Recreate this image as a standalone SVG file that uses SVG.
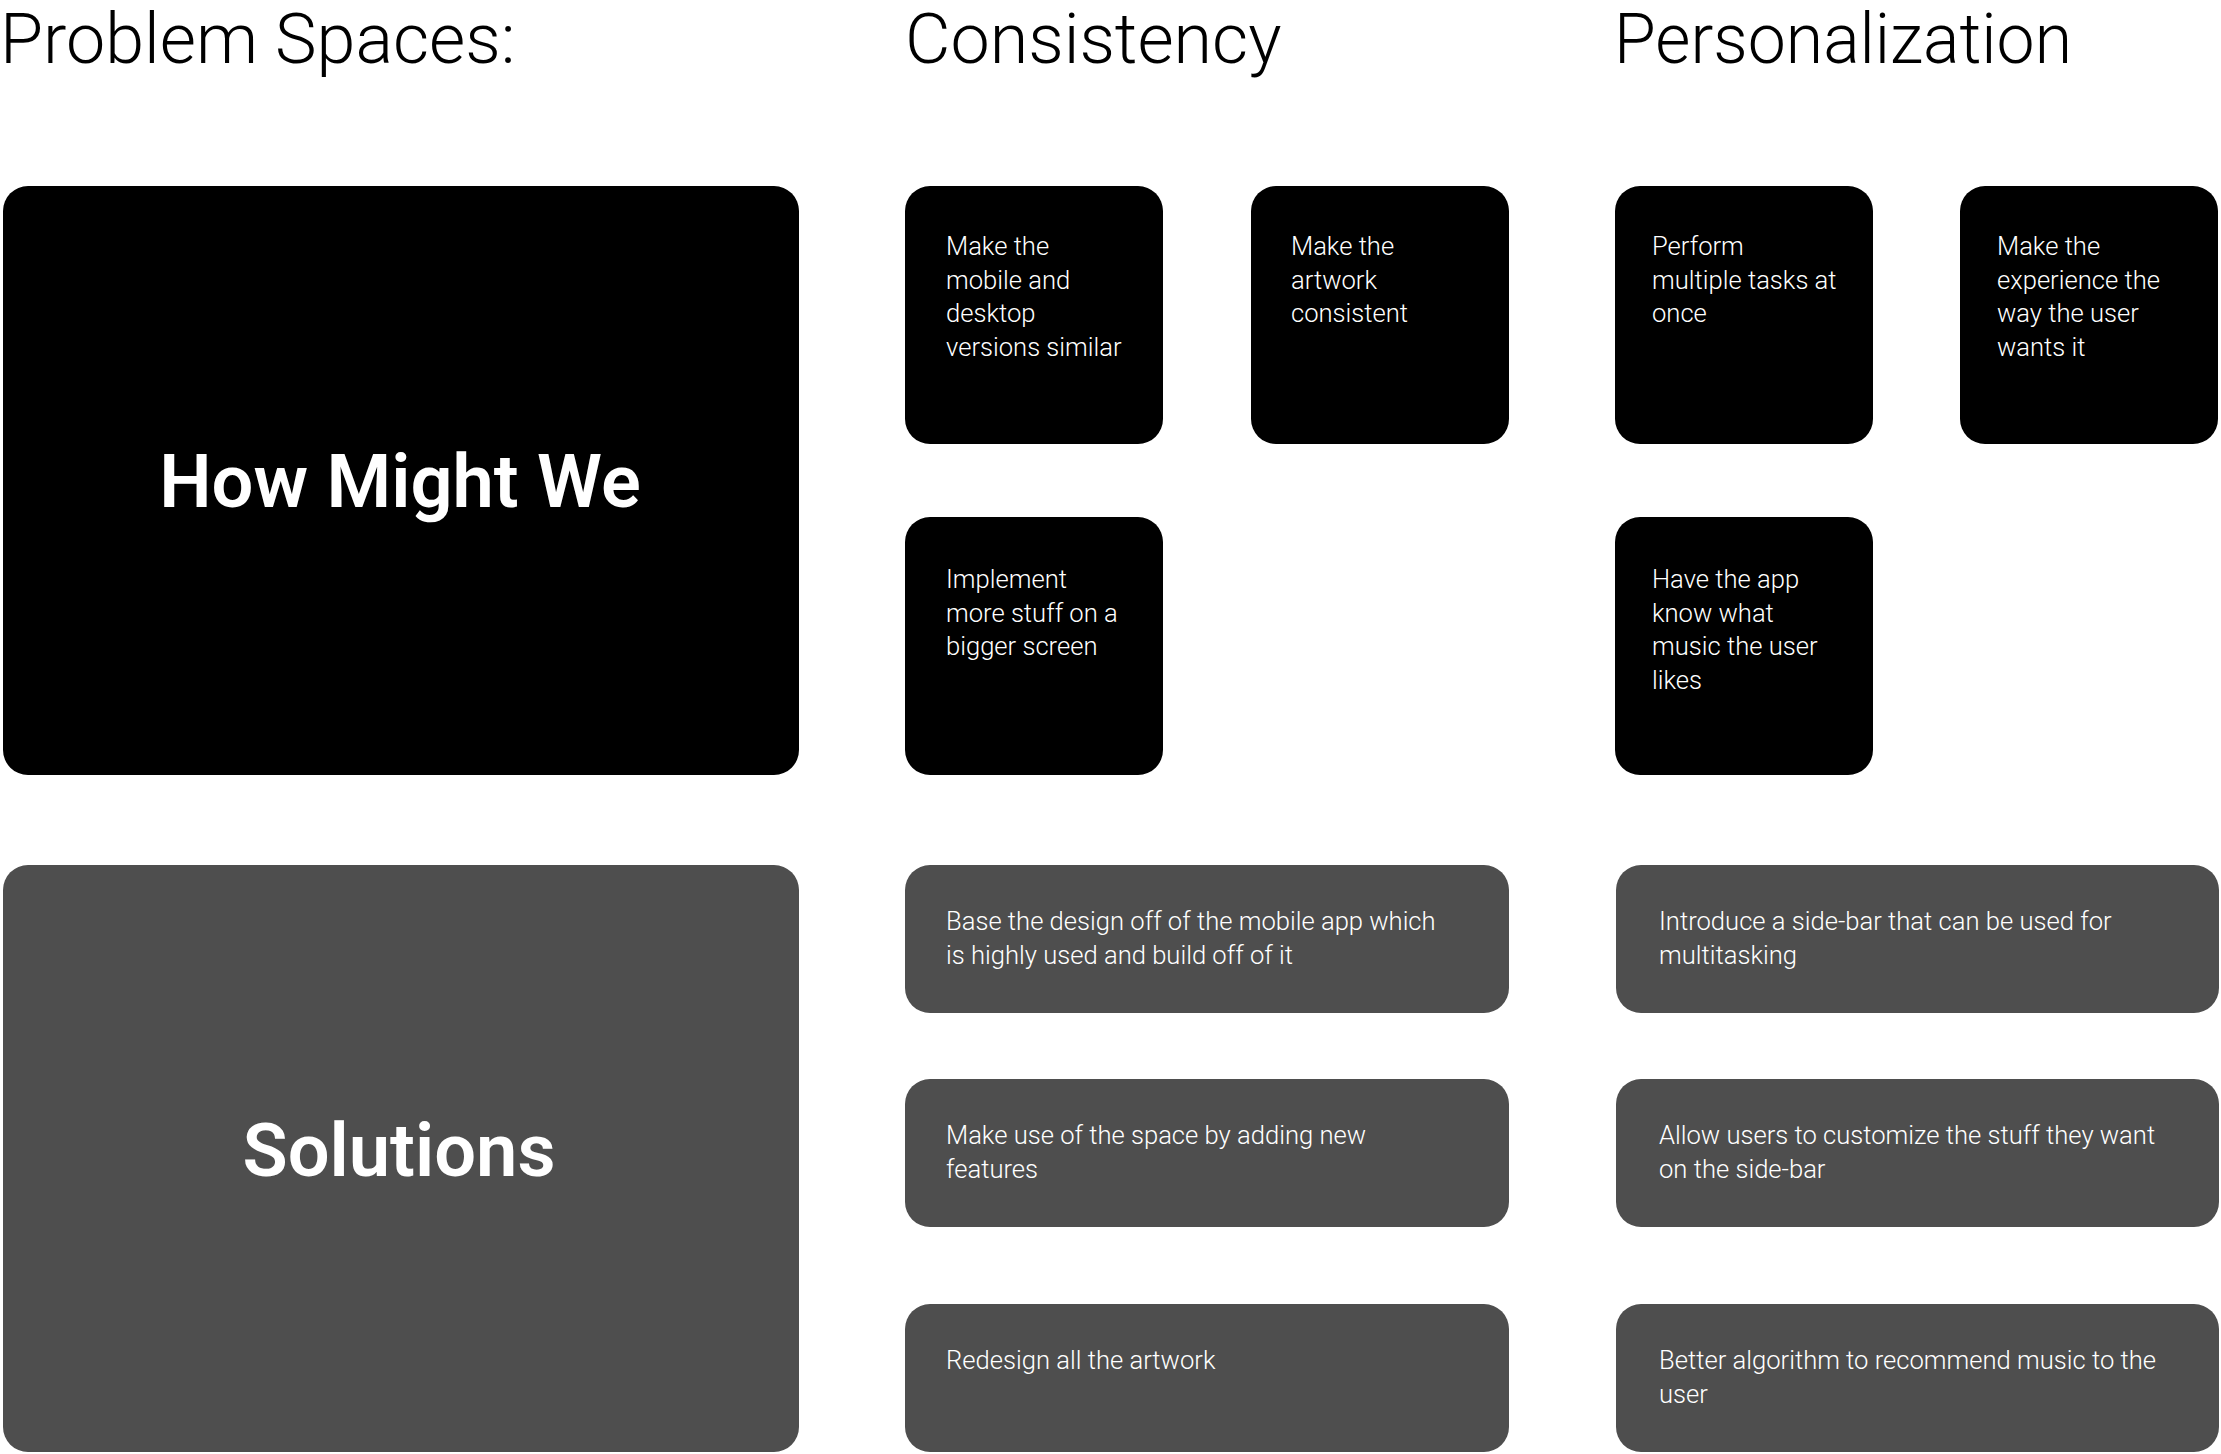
<svg xmlns="http://www.w3.org/2000/svg" width="2221" height="1454" viewBox="0 0 2221 1454">
  <style>
    .heading { font-family: Roboto, "Liberation Sans", sans-serif; font-weight: 300; font-size: 70px; fill: #000; }
    .title { font-family: Roboto, "Liberation Sans", sans-serif; font-weight: 600; font-size: 74px; fill: #fff; text-anchor: middle; }
    .note { font-family: Roboto, "Liberation Sans", sans-serif; font-weight: 300; font-size: 25.6px; fill: #fff; }
    .dark { fill: #000; }
    .grey { fill: #4e4e4e; }
  </style>
  <rect width="2221" height="1454" fill="#fff"/>

  <!-- column headings -->
  <g id="headings">
    <text class="heading" x="0" y="63">Problem Spaces:</text>
    <text class="heading" x="905" y="63">Consistency</text>
    <text class="heading" x="1614" y="63" textLength="458" lengthAdjust="spacingAndGlyphs">Personalization</text>
  </g>

  <!-- row labels -->
  <g id="how-might-we">
    <rect class="dark" x="3" y="186" width="796" height="589" rx="25"/>
    <text class="title" x="400" y="507">How Might We</text>
  </g>
  <g id="solutions">
    <rect class="grey" x="3" y="865" width="796" height="587" rx="25"/>
    <text class="title" x="399" y="1176">Solutions</text>
  </g>

  <!-- how-might-we cards: consistency -->
  <g id="hmw-consistency-1">
    <rect class="dark" x="905" y="186" width="258" height="258" rx="25"/>
    <text class="note" x="946" y="255">
      <tspan x="946">Make the</tspan>
      <tspan x="946" dy="33.5">mobile and</tspan>
      <tspan x="946" dy="33.5">desktop</tspan>
      <tspan x="946" dy="33.5">versions similar</tspan>
    </text>
  </g>
  <g id="hmw-consistency-2">
    <rect class="dark" x="1251" y="186" width="258" height="258" rx="25"/>
    <text class="note" x="1291" y="255">
      <tspan x="1291">Make the</tspan>
      <tspan x="1291" dy="33.5">artwork</tspan>
      <tspan x="1291" dy="33.5">consistent</tspan>
    </text>
  </g>
  <g id="hmw-consistency-3">
    <rect class="dark" x="905" y="517" width="258" height="258" rx="25"/>
    <text class="note" x="946" y="588">
      <tspan x="946">Implement</tspan>
      <tspan x="946" dy="33.5">more stuff on a</tspan>
      <tspan x="946" dy="33.5">bigger screen</tspan>
    </text>
  </g>

  <!-- how-might-we cards: personalization -->
  <g id="hmw-personalization-1">
    <rect class="dark" x="1615" y="186" width="258" height="258" rx="25"/>
    <text class="note" x="1652" y="255">
      <tspan x="1652">Perform</tspan>
      <tspan x="1652" dy="33.5">multiple tasks at</tspan>
      <tspan x="1652" dy="33.5">once</tspan>
    </text>
  </g>
  <g id="hmw-personalization-2">
    <rect class="dark" x="1960" y="186" width="258" height="258" rx="25"/>
    <text class="note" x="1997" y="255">
      <tspan x="1997">Make the</tspan>
      <tspan x="1997" dy="33.5">experience the</tspan>
      <tspan x="1997" dy="33.5">way the user</tspan>
      <tspan x="1997" dy="33.5">wants it</tspan>
    </text>
  </g>
  <g id="hmw-personalization-3">
    <rect class="dark" x="1615" y="517" width="258" height="258" rx="25"/>
    <text class="note" x="1652" y="588">
      <tspan x="1652">Have the app</tspan>
      <tspan x="1652" dy="33.5">know what</tspan>
      <tspan x="1652" dy="33.5">music the user</tspan>
      <tspan x="1652" dy="33.5">likes</tspan>
    </text>
  </g>

  <!-- solution cards: consistency -->
  <g id="sol-consistency-1">
    <rect class="grey" x="905" y="865" width="604" height="148" rx="25"/>
    <text class="note" x="946" y="930">
      <tspan x="946">Base the design off of the mobile app which</tspan>
      <tspan x="946" dy="34">is highly used and build off of it</tspan>
    </text>
  </g>
  <g id="sol-consistency-2">
    <rect class="grey" x="905" y="1079" width="604" height="148" rx="25"/>
    <text class="note" x="946" y="1144">
      <tspan x="946">Make use of the space by adding new</tspan>
      <tspan x="946" dy="34">features</tspan>
    </text>
  </g>
  <g id="sol-consistency-3">
    <rect class="grey" x="905" y="1304" width="604" height="148" rx="25"/>
    <text class="note" x="946" y="1369">Redesign all the artwork</text>
  </g>

  <!-- solution cards: personalization -->
  <g id="sol-personalization-1">
    <rect class="grey" x="1616" y="865" width="603" height="148" rx="25"/>
    <text class="note" x="1659" y="930">
      <tspan x="1659">Introduce a side-bar that can be used for</tspan>
      <tspan x="1659" dy="34">multitasking</tspan>
    </text>
  </g>
  <g id="sol-personalization-2">
    <rect class="grey" x="1616" y="1079" width="603" height="148" rx="25"/>
    <text class="note" x="1659" y="1144">
      <tspan x="1659">Allow users to customize the stuff they want</tspan>
      <tspan x="1659" dy="34">on the side-bar</tspan>
    </text>
  </g>
  <g id="sol-personalization-3">
    <rect class="grey" x="1616" y="1304" width="603" height="148" rx="25"/>
    <text class="note" x="1659" y="1369">
      <tspan x="1659">Better algorithm to recommend music to the</tspan>
      <tspan x="1659" dy="34">user</tspan>
    </text>
  </g>
</svg>
